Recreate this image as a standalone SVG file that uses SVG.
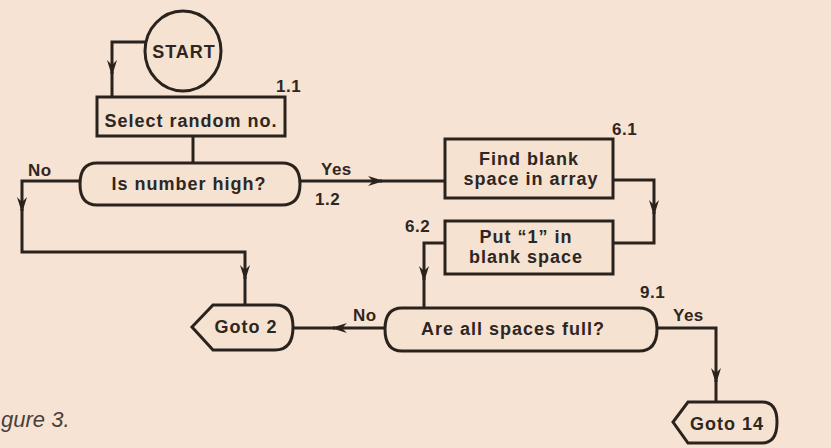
<svg xmlns="http://www.w3.org/2000/svg" width="831" height="448" viewBox="0 0 831 448">
<defs>
<style>
.s{fill:none;stroke:#2a221d;stroke-width:3;stroke-linejoin:miter}
.n{fill:#f5e2d1;stroke:#2a221d;stroke-width:3}
.t{font-family:"Liberation Sans",Arial,sans-serif;font-weight:bold;font-size:18px;fill:#2e2622;letter-spacing:1px;text-anchor:middle}
.l{font-family:"Liberation Sans",Arial,sans-serif;font-weight:bold;font-size:17px;fill:#2e2622;letter-spacing:0.5px}
.cap{font-family:"Liberation Sans",Arial,sans-serif;font-style:italic;font-size:22px;fill:#4a3f3a}
</style>
<marker id="ah" viewBox="0 0 16 10" refX="14" refY="5" markerWidth="16" markerHeight="10" markerUnits="userSpaceOnUse" orient="auto">
<path d="M0,0 L16,5 L0,10 L5,5 Z" fill="#2a221d"/>
</marker>
</defs>
<rect width="831" height="448" fill="#f6e3d3"/>

<g id="connectors">
<path class="s" d="M145 42 H112 V74" marker-end="url(#ah)"/>
<path class="s" d="M112 72 V97"/>
<path class="s" d="M193 136 V163"/>
<path class="s" d="M80 181 H22 V211" marker-end="url(#ah)"/>
<path class="s" d="M22 209 V252 H245 V279" marker-end="url(#ah)"/>
<path class="s" d="M245 277 V305"/>
<path class="s" d="M300 181 H382" marker-end="url(#ah)"/>
<path class="s" d="M380 181 H445"/>
<path class="s" d="M613 180 H654 V214" marker-end="url(#ah)"/>
<path class="s" d="M654 212 V243 H613"/>
<path class="s" d="M445 243 H424 V280" marker-end="url(#ah)"/>
<path class="s" d="M424 278 V308"/>
<path class="s" d="M385 328 H333" marker-end="url(#ah)"/>
<path class="s" d="M335 328 H293"/>
<path class="s" d="M657 328 H716 V382" marker-end="url(#ah)"/>
<path class="s" d="M716 380 V402"/>
</g>

<g id="start">
<ellipse class="n" cx="183" cy="51" rx="38" ry="40"/>
<text class="t" x="184" y="58">START</text>
</g>

<g id="n1_1">
<rect class="n" x="97" y="97" width="188" height="39"/>
<text class="t" x="191" y="127">Select random no.</text>
<text class="l" x="276" y="92">1.1</text>
</g>

<g id="n1_2">
<path class="n" d="M97 163 H282 Q300 163 300 184 Q300 205 282 205 H97 Q80 205 80 184 Q80 163 97 163 Z"/>
<text class="t" x="189" y="190">Is number high?</text>
<text class="l" x="28" y="176">No</text>
<text class="l" x="321" y="175">Yes</text>
<text class="l" x="315" y="205">1.2</text>
</g>

<g id="n6_1">
<rect class="n" x="445" y="139" width="168" height="59"/>
<text class="t" x="529" y="165">Find blank</text>
<text class="t" x="531" y="185">space in array</text>
<text class="l" x="612" y="135">6.1</text>
</g>

<g id="n6_2">
<rect class="n" x="445" y="221" width="168" height="53"/>
<text class="t" x="526" y="243">Put “1” in</text>
<text class="t" x="526" y="263">blank space</text>
<text class="l" x="405" y="232">6.2</text>
</g>

<g id="n9_1">
<path class="n" d="M402 308 H639 Q657 308 657 329 Q657 351 639 351 H402 Q385 351 385 329 Q385 308 402 308 Z"/>
<text class="t" x="513" y="335">Are all spaces full?</text>
<text class="l" x="640" y="298">9.1</text>
<text class="l" x="673" y="321">Yes</text>
<text class="l" x="353" y="321">No</text>
</g>

<g id="goto2">
<path class="n" d="M213 305 H275 Q293 305 293 327 Q293 350 275 350 H213 L192 327 Z"/>
<text class="t" x="246" y="333">Goto 2</text>
</g>

<g id="goto14">
<path class="n" d="M688 402 H762 Q777 402 777 422 Q777 443 762 443 H688 L673 422 Z"/>
<text class="t" x="727" y="430">Goto 14</text>
</g>

<text class="cap" x="1" y="427">gure 3.</text>
</svg>
